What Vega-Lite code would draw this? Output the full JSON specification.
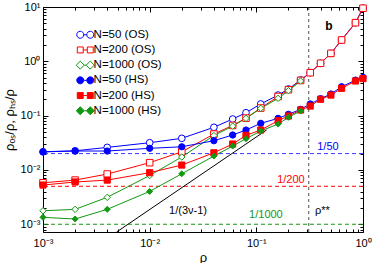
{
  "$schema": "https://vega.github.io/schema/vega-lite/v6.json",
  "width": 320,
  "height": 225,
  "autosize": {"type": "none"},
  "padding": {"left": 43, "top": 7, "right": 11, "bottom": 31},
  "config": {
    "font": "Liberation Sans",
    "view": {"stroke": null},
    "axis": {"labelFont": "Liberation Sans", "titleFont": "Liberation Sans", "domainColor": "black", "tickColor": "black", "labelColor": "black", "titleColor": "black", "grid": false, "titleFontWeight": "normal", "labelFlush": false, "labelOverlap": false},
    "legend": {"labelFont": "Liberation Sans"}
  },
  "datasets": {
    "series": [
      {"s": "N=50 (OS)", "x": 0.001, "y": 0.0216}, {"s": "N=50 (OS)", "x": 0.002, "y": 0.0225}, {"s": "N=50 (OS)", "x": 0.004, "y": 0.026}, {"s": "N=50 (OS)", "x": 0.01, "y": 0.0317}, {"s": "N=50 (OS)", "x": 0.02, "y": 0.0382}, {"s": "N=50 (OS)", "x": 0.04, "y": 0.061}, {"s": "N=50 (OS)", "x": 0.06, "y": 0.0865}, {"s": "N=50 (OS)", "x": 0.08, "y": 0.113}, {"s": "N=50 (OS)", "x": 0.11, "y": 0.164}, {"s": "N=50 (OS)", "x": 0.16, "y": 0.239}, {"s": "N=50 (OS)", "x": 0.2, "y": 0.309}, {"s": "N=50 (OS)", "x": 0.26, "y": 0.453}, {"s": "N=50 (OS)", "x": 0.32, "y": 0.617}, {"s": "N=50 (OS)", "x": 0.4, "y": 0.919}, {"s": "N=50 (OS)", "x": 0.5, "y": 1.4}, {"s": "N=50 (OS)", "x": 0.63, "y": 2.47}, {"s": "N=50 (OS)", "x": 0.85, "y": 5.14}, {"s": "N=50 (OS)", "x": 1.0, "y": 9.5},
      {"s": "N=200 (OS)", "x": 0.001, "y": 0.0058}, {"s": "N=200 (OS)", "x": 0.002, "y": 0.0065}, {"s": "N=200 (OS)", "x": 0.004, "y": 0.0084}, {"s": "N=200 (OS)", "x": 0.01, "y": 0.0136}, {"s": "N=200 (OS)", "x": 0.02, "y": 0.0216}, {"s": "N=200 (OS)", "x": 0.04, "y": 0.0458}, {"s": "N=200 (OS)", "x": 0.06, "y": 0.066}, {"s": "N=200 (OS)", "x": 0.08, "y": 0.09}, {"s": "N=200 (OS)", "x": 0.11, "y": 0.138}, {"s": "N=200 (OS)", "x": 0.16, "y": 0.225}, {"s": "N=200 (OS)", "x": 0.2, "y": 0.3}, {"s": "N=200 (OS)", "x": 0.26, "y": 0.445}, {"s": "N=200 (OS)", "x": 0.32, "y": 0.617}, {"s": "N=200 (OS)", "x": 0.4, "y": 0.919}, {"s": "N=200 (OS)", "x": 0.5, "y": 1.4}, {"s": "N=200 (OS)", "x": 0.63, "y": 2.47}, {"s": "N=200 (OS)", "x": 0.85, "y": 5.14}, {"s": "N=200 (OS)", "x": 1.0, "y": 9.5},
      {"s": "N=1000 (OS)", "x": 0.001, "y": 0.00177}, {"s": "N=1000 (OS)", "x": 0.002, "y": 0.00188}, {"s": "N=1000 (OS)", "x": 0.004, "y": 0.00313}, {"s": "N=1000 (OS)", "x": 0.01, "y": 0.0079}, {"s": "N=1000 (OS)", "x": 0.02, "y": 0.0173}, {"s": "N=1000 (OS)", "x": 0.04, "y": 0.043}, {"s": "N=1000 (OS)", "x": 0.06, "y": 0.064}, {"s": "N=1000 (OS)", "x": 0.08, "y": 0.089}, {"s": "N=1000 (OS)", "x": 0.11, "y": 0.136}, {"s": "N=1000 (OS)", "x": 0.16, "y": 0.208}, {"s": "N=1000 (OS)", "x": 0.2, "y": 0.288}, {"s": "N=1000 (OS)", "x": 0.26, "y": 0.434},
      {"s": "N=50 (HS)", "x": 0.001, "y": 0.0215}, {"s": "N=50 (HS)", "x": 0.002, "y": 0.0223}, {"s": "N=50 (HS)", "x": 0.004, "y": 0.0223}, {"s": "N=50 (HS)", "x": 0.01, "y": 0.025}, {"s": "N=50 (HS)", "x": 0.02, "y": 0.0267}, {"s": "N=50 (HS)", "x": 0.04, "y": 0.0345}, {"s": "N=50 (HS)", "x": 0.06, "y": 0.044}, {"s": "N=50 (HS)", "x": 0.08, "y": 0.0543}, {"s": "N=50 (HS)", "x": 0.11, "y": 0.0721}, {"s": "N=50 (HS)", "x": 0.16, "y": 0.089}, {"s": "N=50 (HS)", "x": 0.2, "y": 0.1057}, {"s": "N=50 (HS)", "x": 0.26, "y": 0.1306}, {"s": "N=50 (HS)", "x": 0.32, "y": 0.1637}, {"s": "N=50 (HS)", "x": 0.4, "y": 0.205}, {"s": "N=50 (HS)", "x": 0.5, "y": 0.25}, {"s": "N=50 (HS)", "x": 0.63, "y": 0.34}, {"s": "N=50 (HS)", "x": 0.85, "y": 0.45}, {"s": "N=50 (HS)", "x": 1.0, "y": 0.507},
      {"s": "N=200 (HS)", "x": 0.001, "y": 0.00527}, {"s": "N=200 (HS)", "x": 0.002, "y": 0.006}, {"s": "N=200 (HS)", "x": 0.004, "y": 0.0065}, {"s": "N=200 (HS)", "x": 0.01, "y": 0.0089}, {"s": "N=200 (HS)", "x": 0.02, "y": 0.0123}, {"s": "N=200 (HS)", "x": 0.04, "y": 0.0207}, {"s": "N=200 (HS)", "x": 0.06, "y": 0.03}, {"s": "N=200 (HS)", "x": 0.08, "y": 0.0434}, {"s": "N=200 (HS)", "x": 0.11, "y": 0.0543}, {"s": "N=200 (HS)", "x": 0.16, "y": 0.0805}, {"s": "N=200 (HS)", "x": 0.2, "y": 0.0984}, {"s": "N=200 (HS)", "x": 0.26, "y": 0.127}, {"s": "N=200 (HS)", "x": 0.32, "y": 0.15}, {"s": "N=200 (HS)", "x": 0.4, "y": 0.2}, {"s": "N=200 (HS)", "x": 0.5, "y": 0.239}, {"s": "N=200 (HS)", "x": 0.63, "y": 0.318}, {"s": "N=200 (HS)", "x": 0.85, "y": 0.434}, {"s": "N=200 (HS)", "x": 1.0, "y": 0.48},
      {"s": "N=1000 (HS)", "x": 0.001, "y": 0.00134}, {"s": "N=1000 (HS)", "x": 0.002, "y": 0.00125}, {"s": "N=1000 (HS)", "x": 0.004, "y": 0.00188}, {"s": "N=1000 (HS)", "x": 0.01, "y": 0.00403}, {"s": "N=1000 (HS)", "x": 0.02, "y": 0.0085}, {"s": "N=1000 (HS)", "x": 0.04, "y": 0.018}, {"s": "N=1000 (HS)", "x": 0.06, "y": 0.0275}, {"s": "N=1000 (HS)", "x": 0.08, "y": 0.0376}, {"s": "N=1000 (HS)", "x": 0.11, "y": 0.052}, {"s": "N=1000 (HS)", "x": 0.16, "y": 0.07}, {"s": "N=1000 (HS)", "x": 0.2, "y": 0.093}, {"s": "N=1000 (HS)", "x": 0.26, "y": 0.1216}
    ],
    "scaling": [
      {"x": 0.0049, "y": 0.00072}, {"x": 0.125, "y": 0.0545}
    ],
    "labels": [
      {"t": "1/50", "x": 0.469, "y": 0.0264},
      {"t": "1/200", "x": 0.211, "y": 0.00643},
      {"t": "1/1000", "x": 0.123, "y": 0.00146},
      {"t": "1/(3ν-1)", "x": 0.0229, "y": 0.00172}
    ]
  },
  "resolve": {
    "scale": {"stroke": "independent", "fill": "independent", "shape": "independent", "color": "independent"},
    "axis": {"x": "independent", "y": "independent"}
  },
  "layer": [
    {
      "data": {"values": [{"r": "1/50"}]},
      "mark": {"type": "rule", "strokeDash": [4, 3], "strokeWidth": 1, "color": "#3a3aff"},
      "encoding": {
        "y": {"datum": 0.02, "type": "quantitative", "scale": {"type": "log", "domain": [0.00072, 10], "nice": false}, "axis": null}
      }
    },
    {
      "data": {"values": [{"r": "1/200"}]},
      "mark": {"type": "rule", "strokeDash": [4, 3], "strokeWidth": 1, "color": "#ff0000"},
      "encoding": {
        "y": {"datum": 0.005, "type": "quantitative", "scale": {"type": "log", "domain": [0.00072, 10], "nice": false}, "axis": null}
      }
    },
    {
      "data": {"values": [{"r": "1/1000"}]},
      "mark": {"type": "rule", "strokeDash": [4, 3], "strokeWidth": 1, "color": "#119911"},
      "encoding": {
        "y": {"datum": 0.001, "type": "quantitative", "scale": {"type": "log", "domain": [0.00072, 10], "nice": false}, "axis": null}
      }
    },
    {
      "data": {"values": [{"r": "rho**"}]},
      "mark": {"type": "rule", "strokeDash": [3, 3], "strokeWidth": 0.8, "color": "#222222"},
      "encoding": {
        "x": {"datum": 0.31, "type": "quantitative", "scale": {"type": "log", "domain": [0.001, 1], "nice": false}, "axis": null}
      }
    },
    {
      "data": {"name": "scaling"},
      "mark": {"type": "line", "color": "black", "strokeWidth": 1, "clip": true},
      "encoding": {
        "x": {"field": "x", "type": "quantitative", "scale": {"type": "log", "domain": [0.001, 1], "nice": false}, "axis": {"orient": "top", "values": [0.001,0.002,0.003,0.004,0.005,0.006,0.007,0.008,0.009,0.01,0.02,0.03,0.04,0.05,0.06,0.07,0.08,0.09,0.1,0.2,0.3,0.4,0.5,0.6,0.7,0.8,0.9,1], "labels": false, "title": null, "domain": true, "tickSize": {"condition": {"test": "abs(log(datum.value)/LN10 - round(log(datum.value)/LN10)) < 0.01", "value": -5}, "value": -3}}},
        "y": {"field": "y", "type": "quantitative", "scale": {"type": "log", "domain": [0.00072, 10], "nice": false}, "axis": {"orient": "right", "values": [0.0008,0.0009,0.001,0.002,0.003,0.004,0.005,0.006,0.007,0.008,0.009,0.01,0.02,0.03,0.04,0.05,0.06,0.07,0.08,0.09,0.1,0.2,0.3,0.4,0.5,0.6,0.7,0.8,0.9,1,2,3,4,5,6,7,8,9,10], "labels": false, "title": null, "domain": true, "tickSize": {"condition": {"test": "abs(log(datum.value)/LN10 - round(log(datum.value)/LN10)) < 0.01", "value": -5}, "value": -3}}}
      }
    },
    {
      "data": {"name": "series"},
      "mark": {"type": "line", "strokeWidth": 1},
      "encoding": {
        "x": {"field": "x", "type": "quantitative", "title": "ρ", "scale": {"type": "log", "domain": [0.001, 1], "nice": false}, "axis": {"orient": "bottom", "values": [0.001,0.002,0.003,0.004,0.005,0.006,0.007,0.008,0.009,0.01,0.02,0.03,0.04,0.05,0.06,0.07,0.08,0.09,0.1,0.2,0.3,0.4,0.5,0.6,0.7,0.8,0.9,1], "labelFontSize": 11, "titleFontSize": 13, "labelPadding": 10, "titlePadding": 1, "labelExpr": "abs(log(datum.value)/LN10 - round(log(datum.value)/LN10)) < 0.01 ? (round(log(datum.value)/LN10) == -3 ? '10⁻³' : round(log(datum.value)/LN10) == -2 ? '10⁻²' : round(log(datum.value)/LN10) == -1 ? '10⁻¹' : '10⁰') : ''", "tickSize": {"condition": {"test": "abs(log(datum.value)/LN10 - round(log(datum.value)/LN10)) < 0.01", "value": -5}, "value": -3}}},
        "y": {"field": "y", "type": "quantitative", "title": "ρₒₛ/ρ, ρₕₛ/ρ", "scale": {"type": "log", "domain": [0.00072, 10], "nice": false}, "axis": {"orient": "left", "values": [0.0008,0.0009,0.001,0.002,0.003,0.004,0.005,0.006,0.007,0.008,0.009,0.01,0.02,0.03,0.04,0.05,0.06,0.07,0.08,0.09,0.1,0.2,0.3,0.4,0.5,0.6,0.7,0.8,0.9,1,2,3,4,5,6,7,8,9,10], "labelFontSize": 11, "titleFontSize": 13, "labelPadding": 8, "titlePadding": 4, "labelExpr": "abs(log(datum.value)/LN10 - round(log(datum.value)/LN10)) < 0.01 ? (round(log(datum.value)/LN10) == -3 ? '10⁻³' : round(log(datum.value)/LN10) == -2 ? '10⁻²' : round(log(datum.value)/LN10) == -1 ? '10⁻¹' : round(log(datum.value)/LN10) == 0 ? '10⁰' : '10¹') : ''", "tickSize": {"condition": {"test": "abs(log(datum.value)/LN10 - round(log(datum.value)/LN10)) < 0.01", "value": -5}, "value": -3}}},
        "detail": {"field": "s", "type": "nominal"},
        "stroke": {"field": "s", "type": "nominal", "scale": {"domain": ["N=50 (OS)", "N=200 (OS)", "N=1000 (OS)", "N=50 (HS)", "N=200 (HS)", "N=1000 (HS)"], "range": ["#0000ff", "#ff0000", "#119911", "#0000ff", "#ff0000", "#119911"]}, "legend": null}
      }
    },
    {
      "data": {"name": "series"},
      "mark": {"type": "point", "strokeWidth": 1, "opacity": 1, "filled": false},
      "encoding": {
        "x": {"field": "x", "type": "quantitative", "scale": {"type": "log", "domain": [0.001, 1], "nice": false}, "axis": null},
        "y": {"field": "y", "type": "quantitative", "scale": {"type": "log", "domain": [0.00072, 10], "nice": false}, "axis": null},
        "stroke": {"field": "s", "type": "nominal", "scale": {"domain": ["N=50 (OS)", "N=200 (OS)", "N=1000 (OS)", "N=50 (HS)", "N=200 (HS)", "N=1000 (HS)"], "range": ["#0000ff", "#ff0000", "#119911", "#0000ff", "#ff0000", "#119911"]}, "legend": null},
        "fill": {"field": "s", "type": "nominal", "scale": {"domain": ["N=50 (OS)", "N=200 (OS)", "N=1000 (OS)", "N=50 (HS)", "N=200 (HS)", "N=1000 (HS)"], "range": ["#ffffff", "#ffffff", "#ffffff", "#0000ff", "#ff0000", "#119911"]}, "legend": null},
        "shape": {"field": "s", "type": "nominal", "scale": {"domain": ["N=50 (OS)", "N=200 (OS)", "N=1000 (OS)", "N=50 (HS)", "N=200 (HS)", "N=1000 (HS)"], "range": ["circle", "square", "diamond", "circle", "square", "diamond"]}, "legend": null},
        "size": {"field": "s", "type": "nominal", "scale": {"domain": ["N=50 (OS)", "N=200 (OS)", "N=1000 (OS)", "N=50 (HS)", "N=200 (HS)", "N=1000 (HS)"], "range": [45, 36, 45, 49, 40, 49]}, "legend": null}
      }
    },
    {
      "data": {"name": "series"},
      "transform": [{"filter": "false"}],
      "mark": {"type": "point", "strokeWidth": 1, "opacity": 1, "filled": false},
      "encoding": {
        "x": {"field": "x", "type": "quantitative", "scale": {"type": "log", "domain": [0.001, 1], "nice": false}, "axis": null},
        "y": {"field": "y", "type": "quantitative", "scale": {"type": "log", "domain": [0.00072, 10], "nice": false}, "axis": null},
        "stroke": {"field": "s", "type": "nominal", "title": null, "scale": {"domain": ["N=50 (OS)", "N=200 (OS)", "N=1000 (OS)", "N=50 (HS)", "N=200 (HS)", "N=1000 (HS)"], "range": ["#0000ff", "#ff0000", "#119911", "#0000ff", "#ff0000", "#119911"]},
          "legend": {"orient": "none", "legendX": 31.5, "legendY": 22, "title": null, "padding": 0, "symbolSize": 49, "symbolStrokeWidth": 1, "symbolOpacity": 1, "labelFontSize": 11.5, "labelOffset": 7.6, "rowPadding": 2.2, "labelColor": "black"}},
        "fill": {"field": "s", "type": "nominal", "title": null, "scale": {"domain": ["N=50 (OS)", "N=200 (OS)", "N=1000 (OS)", "N=50 (HS)", "N=200 (HS)", "N=1000 (HS)"], "range": ["#ffffff", "#ffffff", "#ffffff", "#0000ff", "#ff0000", "#119911"]},
          "legend": {"orient": "none", "legendX": 31.5, "legendY": 22, "title": null, "padding": 0, "symbolSize": 49, "symbolStrokeWidth": 1, "symbolOpacity": 1, "labelFontSize": 11.5, "labelOffset": 7.6, "rowPadding": 2.2, "labelColor": "black"}},
        "shape": {"field": "s", "type": "nominal", "title": null, "scale": {"domain": ["N=50 (OS)", "N=200 (OS)", "N=1000 (OS)", "N=50 (HS)", "N=200 (HS)", "N=1000 (HS)"], "range": [
          "M-1,0A1,1 0 1,1 1,0A1,1 0 1,1 -1,0Z M1,0H1.86 M1.86,0A1,1 0 1,1 3.86,0A1,1 0 1,1 1.86,0Z",
          "M-0.85,-0.85H0.85V0.85H-0.85Z M0.85,0H2.01 M2.01,-0.85H3.71V0.85H2.01Z",
          "M0,-1.15L1.15,0L0,1.15L-1.15,0Z M1.15,0H1.71 M2.86,-1.15L4.01,0L2.86,1.15L1.71,0Z",
          "M-1,0A1,1 0 1,1 1,0A1,1 0 1,1 -1,0Z M1,0H1.86 M1.86,0A1,1 0 1,1 3.86,0A1,1 0 1,1 1.86,0Z",
          "M-0.85,-0.85H0.85V0.85H-0.85Z M0.85,0H2.01 M2.01,-0.85H3.71V0.85H2.01Z",
          "M0,-1.15L1.15,0L0,1.15L-1.15,0Z M1.15,0H1.71 M2.86,-1.15L4.01,0L2.86,1.15L1.71,0Z"
        ]},
          "legend": {"orient": "none", "legendX": 31.5, "legendY": 22, "title": null, "padding": 0, "symbolSize": 49, "symbolStrokeWidth": 1, "symbolOpacity": 1, "labelFontSize": 11.5, "labelOffset": 7.6, "rowPadding": 2.2, "labelColor": "black"}}
      }
    },
    {
      "data": {"name": "labels"},
      "mark": {"type": "text", "fontSize": 11, "align": "center", "baseline": "middle"},
      "encoding": {
        "x": {"field": "x", "type": "quantitative", "scale": {"type": "log", "domain": [0.001, 1], "nice": false}, "axis": null},
        "y": {"field": "y", "type": "quantitative", "scale": {"type": "log", "domain": [0.00072, 10], "nice": false}, "axis": null},
        "text": {"field": "t", "type": "nominal"},
        "color": {"field": "t", "type": "nominal", "scale": {"domain": ["1/50", "1/200", "1/1000", "1/(3ν-1)"], "range": ["#0000ff", "#ff0000", "#119911", "#000000"]}, "legend": null}
      }
    },
    {
      "data": {"values": [{"t": "ρ**", "x": 0.354, "y": 0.00175}]},
      "mark": {"type": "text", "fontSize": 11, "align": "left", "baseline": "middle", "color": "black"},
      "encoding": {
        "x": {"field": "x", "type": "quantitative", "scale": {"type": "log", "domain": [0.001, 1], "nice": false}, "axis": null},
        "y": {"field": "y", "type": "quantitative", "scale": {"type": "log", "domain": [0.00072, 10], "nice": false}, "axis": null},
        "text": {"field": "t", "type": "nominal"}
      }
    },
    {
      "data": {"values": [{"t": "b", "x": 0.479, "y": 4.47}]},
      "mark": {"type": "text", "fontSize": 12, "fontWeight": "bold", "align": "center", "baseline": "middle", "color": "black"},
      "encoding": {
        "x": {"field": "x", "type": "quantitative", "scale": {"type": "log", "domain": [0.001, 1], "nice": false}, "axis": null},
        "y": {"field": "y", "type": "quantitative", "scale": {"type": "log", "domain": [0.00072, 10], "nice": false}, "axis": null},
        "text": {"field": "t", "type": "nominal"}
      }
    }
  ]
}
